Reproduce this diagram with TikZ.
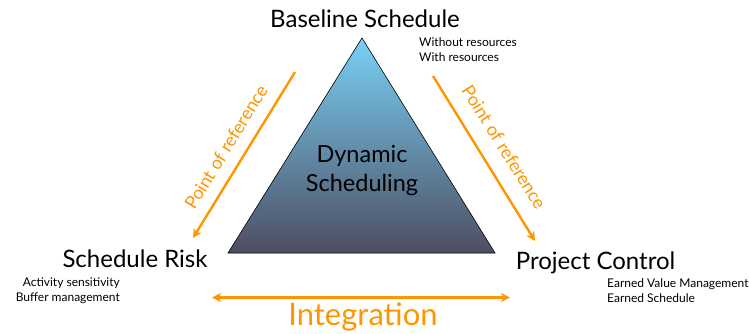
\documentclass[tikz,border=0pt]{standalone}
\usepackage{fontspec}
\setmainfont{Lato}
\usetikzlibrary{arrows.meta,positioning}
\definecolor{cO}{RGB}{255,150,0}
\definecolor{cTop}{RGB}{120,208,245}
\definecolor{cBot}{RGB}{78,78,98}
\tikzset{mytitle/.style={
  font=\fontsize{24}{27}\selectfont,
  text=black,
  inner sep=0pt,
  anchor=base,
  }
}
\tikzset{mynote/.style={
  font=\fontsize{12}{15.5}\selectfont,
  text=black,
  inner sep=0pt,
  }
}
\tikzset{myref/.style={
  draw=cO,
  line width=2.4pt,
  -{Stealth[length=9pt,width=9pt,inset=2.5pt]},
  }
}
\tikzset{myreflabel/.style={
  font=\fontsize{18}{20}\selectfont,
  text=cO,
  inner sep=0pt,
  }
}

\begin{document}
\begin{tikzpicture}[x=1pt,y=-1pt]
      \useasboundingbox (0,0) rectangle (749,333);
      % triangle
      \coordinate (top) at (362,38);
      \coordinate (bl) at (228,253);
      \coordinate (br) at (495,253);
      \shade[top color=cTop, bottom color=cBot, draw=black, line width=0.6pt]
        (top) -- (bl) -- (br) -- cycle;
      \node[mytitle, anchor=center, align=center, font=\fontsize{23.5}{29}\selectfont] (core) at (362,171) {Dynamic\\Scheduling};

      % corners
      \node[mytitle] (base) at (365,27.5) {Baseline Schedule};
      \node[mytitle] (risk) at (135,267.5) {Schedule Risk};
      \node[mytitle] (ctrl) at (595.5,269) {Project Control};

      \node[mynote, anchor=north west, align=left] (basenote) at (419,37) {Without resources\\With resources};
      \node[mynote, anchor=north east, align=right] (risknote) at (120,277) {Activity sensitivity\\Buffer management};
      \node[mynote, anchor=north west, align=left] (ctrlnote) at (607,278) {Earned Value Management\\Earned Schedule};

      % arrows
      \coordinate (l1) at (295,72);
      \coordinate (l2) at (193,238);
      \coordinate (r1) at (433,76);
      \coordinate (r2) at (535,241);
      \coordinate (i1) at (212,297.5);
      \coordinate (i2) at (510,297.5);
      \draw[myref] (l1) -- (l2);
      \draw[myref] (r1) -- (r2);
      \draw[myref, {Stealth[length=9pt,width=9pt,inset=2.5pt]}-{Stealth[length=9pt,width=9pt,inset=2.5pt]}] (i1) -- (i2);

      \node[myreflabel, rotate=58.5] (lref) at (226,147) {Point of reference};
      \node[myreflabel, rotate=-58] (rref) at (504,147) {Point of reference};
      \node[myreflabel, anchor=base, font=\fontsize{31}{33}\selectfont] (integ) at (363,325.5) {Integration};
\end{tikzpicture}
\end{document}
